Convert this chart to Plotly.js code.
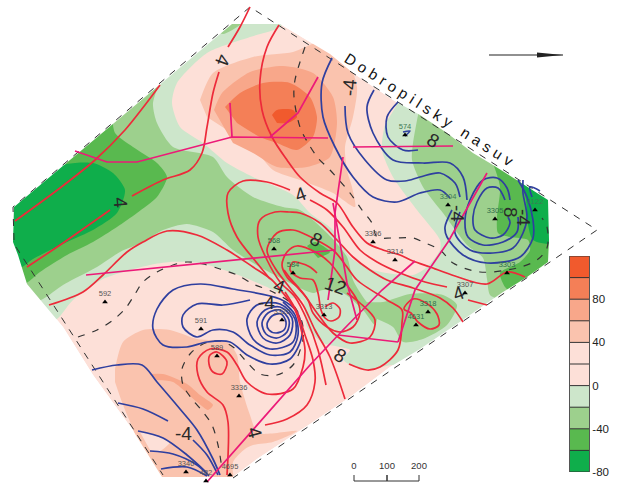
<!DOCTYPE html>
<html><head><meta charset="utf-8">
<script src="https://cdn.plot.ly/plotly-3.0.1.min.js"></script>
<style>html,body{margin:0;padding:0;background:#fff}#c{width:620px;height:484px}</style>
</head><body><div id="c"></div>
<script>
// Colour classes of the legend (lower edge of each class)
const classEdges=[-80,-60,-40,-20,0,20,40,60,80,100,120];
const classColors=['#0fae4b','#59b94f','#9dd08d','#cde6cb','#fde0d8','#fde0d8','#fac3ae','#f8a78a','#f47f57','#f15a2d'];
const legendTicks=[80,40,0,-40,-80];

// Map regions: [x,y] on the map, one list per value class
const areaAll=[[14,207],[232,24],[280,24],[330,54],[353,73],[393,100],[420,115],[447,133],[473,153],[493,165],[517,180],[548,200],[549,240],[548,262],[527,277],[503,292],[467,317],[420,349],[390,367],[350,397],[310,424],[257,459],[233,477],[162,477],[132,429],[93,375],[63,327],[27,284],[18,255],[13,242]];
const lightGreen=[[225,10],[290,10],[280,27],[250,37],[207,53],[177,83],[172,103],[180,127],[203,143],[227,163],[253,177],[293,195],[310,213],[333,230],[350,257],[373,270],[413,275],[427,267],[440,250],[440,240],[417,210],[393,177],[382,150],[385,125],[397,103],[392,88],[560,195],[560,268],[503,302],[420,360],[403,372],[393,365],[370,370],[350,365],[343,359],[350,350],[340,347],[323,343],[307,327],[303,300],[290,298],[267,287],[233,273],[200,263],[170,262],[150,265],[103,279],[73,300],[57,319],[40,325],[0,265],[0,190]];
const midGreenW=[[165,70],[153,103],[157,123],[173,147],[213,157],[227,177],[253,197],[283,207],[300,210],[327,233],[347,257],[353,280],[363,297],[377,317],[375,325],[363,310],[343,293],[323,290],[313,293],[290,283],[260,267],[233,250],[213,232],[187,224],[163,230],[143,242],[120,252],[97,267],[63,285],[43,299],[25,305],[0,265],[0,190]];
const midGreenTop=[[225,15],[245,15],[241,24],[223,34],[215,30]];
const midGreenE=[[420,105],[413,143],[412,160],[423,187],[443,213],[467,245],[483,258],[487,279],[490,295],[500,299],[515,295],[560,270],[560,190],[430,100]];
const midGreenS=[[365,302],[383,302],[410,294],[443,295],[457,305],[447,325],[423,339],[403,342],[393,327],[377,319]];
const darkGreenW=[[112,115],[115,133],[133,147],[157,163],[167,177],[157,197],[137,213],[117,227],[93,242],[67,255],[40,272],[28,282],[15,288],[0,265],[0,190]];
const darkGreenE=[[490,155],[500,187],[497,217],[498,233],[510,237],[528,240],[530,250],[520,262],[500,273],[505,287],[512,292],[560,270],[560,190],[520,170]];
const darkGreenC=[[307,246],[315,242],[330,252],[318,258]];
const deepGreenW=[[0,215],[40,175],[67,164],[93,163],[113,173],[125,190],[117,213],[93,230],[67,242],[33,259],[20,268],[0,265]];
const deepGreenE=[[518,172],[526,200],[527,218],[533,240],[560,243],[560,190]];
const peachN=[[200,100],[213,73],[253,57],[293,52],[320,42],[345,55],[357,87],[353,117],[345,147],[347,170],[352,187],[355,207],[333,193],[300,180],[273,170],[253,147],[227,130],[207,117]];
const salmonN=[[214,110],[222,93],[250,72],[283,66],[313,73],[333,97],[337,123],[330,157],[307,167],[277,167],[253,153],[233,143]];
const orangeN=[[225,107],[240,93],[263,83],[290,83],[310,97],[317,117],[313,137],[297,150],[277,143],[260,137],[237,123]];
const deepOrangeN=[[272,115],[277,110],[293,110],[297,117],[288,123],[277,123]];
const peachS=[[115,369],[123,342],[143,330],[170,330],[197,339],[227,342],[237,355],[240,382],[250,415],[258,433],[297,431],[273,442],[253,445],[245,449],[233,462],[232,490],[155,490],[133,429],[123,405],[115,382]];
const paleS=[[140,432],[160,437],[170,442],[160,451],[150,450]];
const salmonS=[[150,374],[163,374],[187,384],[200,395],[213,405],[208,410],[197,402],[173,382],[157,380]];

// Positive isolines
const red1=[[15,221],[60,188],[95,160],[125,130],[145,105],[160,85]];
const red2=[[27,267],[63,243],[110,210]];
const red3=[[132,196],[163,180],[190,170],[202,153],[207,127],[213,93],[219,72]];
const red4=[[228,47],[240,27],[250,7]];
const red5=[[279,25],[267,47],[260,80],[262,110],[272,137],[287,160],[300,177],[320,193],[337,203],[353,227],[367,243],[383,250],[400,255],[413,261],[430,267],[455,276],[487,284],[507,272],[525,277]];
const red6=[[290,190],[267,182],[243,181],[228,193],[228,213],[237,237],[257,263],[270,279]];
const red7=[[285,292],[297,312],[305,335],[313,360],[315,382],[307,405],[287,419],[265,425]];
const red8=[[310,200],[327,210],[343,227],[360,250],[377,262],[400,273],[425,282],[447,287]];
const red9=[[468,300],[487,305]];
const red10=[[326,385],[318,350],[307,320],[295,297],[280,282],[267,260],[258,237],[260,220],[275,212],[290,212],[300,213],[320,223],[337,240],[353,257],[370,270],[387,280],[413,288],[440,298],[453,308],[463,322]];
const red11=[[345,399],[330,357],[315,330],[303,305],[290,288],[275,268],[267,250],[277,233],[293,230],[300,232],[333,250],[347,267],[357,280],[387,300],[402,310],[402,323],[398,350],[380,367],[367,370],[349,364]];
const red12=[[287,252],[297,246],[317,253],[330,263],[343,280],[357,300],[360,313],[353,327],[340,332],[327,327],[313,313],[308,300],[297,287],[287,277],[282,265],[287,252]];
const red13=[[347,293],[360,303],[375,320],[370,337],[350,343],[333,333],[317,313],[303,293],[290,278],[284,270]];
const red14=[[317,273],[310,267],[300,263],[293,262],[290,270],[300,278],[313,280],[318,293],[321,310],[325,318],[331,321],[339,317],[340,309],[333,303],[325,307]];
const red15=[[49,305],[83,292],[103,275],[127,252],[143,242],[167,231],[197,235],[227,250],[253,267],[272,280],[283,293],[295,310],[302,333],[305,350],[303,367],[293,389],[267,394],[247,382],[237,365],[227,352],[210,349],[198,359],[198,375],[207,392],[223,405],[228,422],[227,475]];
const red16=[[217,352],[227,362],[222,374],[213,372],[209,364],[210,355],[217,352]];
const red17=[[413,299],[426,303],[437,314],[439,325],[430,329],[418,322],[411,313],[404,309],[413,299]];

// Negative isolines
const blue1=[[92,370],[117,365],[142,365],[157,382],[180,409],[197,430],[213,459],[220,475]];
const blue2=[[118,403],[143,409],[168,421]];
const blue3=[[193,440],[207,455],[218,475]];
const blue4=[[138,431],[163,438],[187,455],[207,473]];
const blue5=[[150,451],[173,454],[197,465],[209,476]];
const blue6=[[161,469],[187,467],[207,476]];
const blue7=[[280,299],[233,289],[200,284],[173,290],[157,309],[153,329],[163,345],[187,347],[207,342],[230,342],[247,355],[270,364],[290,359],[302,335],[297,312],[280,299]];
const blue8=[[250,300],[223,305],[197,304],[183,315],[183,327],[197,337],[213,330],[233,332],[250,345],[270,355],[290,352],[298,335],[295,315],[283,302]];
const blue9=[[247,319],[257,305],[280,304],[295,319],[293,342],[270,349],[253,339],[247,319]];
const blue10=[[257,322],[265,310],[280,307],[292,318],[290,335],[277,343],[263,338],[257,322]];
const blue11=[[262,323],[268,313],[280,310],[289,320],[287,332],[277,338],[266,334],[262,323]];
const blue12=[[267,324],[272,316],[281,314],[286,322],[284,330],[276,333],[269,330],[267,324]];
const blue13=[[332,58],[322,83],[323,117],[335,147],[353,177],[373,197],[397,202],[420,193],[440,190],[450,198]];
const blue14=[[345,106],[348,133],[365,160],[387,180],[405,181],[420,177],[440,173],[455,183],[460,197]];
const blue15=[[374,90],[367,107],[373,133],[393,160],[423,163],[450,163],[463,177],[467,200]];
const blue16=[[398,102],[387,117],[388,137],[403,150],[418,150]];
const blue17=[[403,132],[410,131],[405,136]];
const blue18=[[452,210],[445,227],[447,237],[463,255],[487,263],[520,257],[533,238],[533,220],[527,197],[518,180]];
const blue19=[[460,212],[455,233],[470,250],[493,253],[513,248],[523,233],[527,217],[523,193],[523,180]];
const blue20=[[510,200],[507,188],[497,178],[483,180],[470,200],[465,220],[468,237],[483,245],[503,242],[517,232],[518,217]];
const blue21=[[505,200],[498,188],[487,188],[477,202],[473,217],[475,230],[490,238],[503,235],[510,223],[508,217]];
const blue22=[[532,197],[530,187],[540,191]];

// Faults
const fault1=[[75,151],[107,162],[137,162],[203,145],[232,137],[328,138]];
const fault2=[[230,103],[232,137]];
const fault3=[[270,137],[298,113],[318,77]];
const fault4=[[353,147],[453,146]];
const fault5=[[343,157],[335,213],[335,250],[328,300]];
const fault6=[[333,203],[347,283],[357,320]];
const fault7=[[86,275],[335,250]];
const fault8=[[207,482],[310,365],[343,330],[382,290],[415,261]];
const fault9=[[338,335],[398,342]];
const fault10=[[398,342],[415,290],[448,242],[487,173]];

// Dashed lines
const outline1=[[14,240],[13,207],[250,7],[597,230],[233,478]];
const outline2=[[16,247],[163,475]];
const zeroLineS=[[78,337],[97,330],[113,320],[125,309],[135,294],[143,282],[157,272],[173,265],[187,262],[203,264],[220,269],[237,275],[253,284],[273,292],[293,305],[302,322],[303,339],[293,365],[277,375],[260,374],[245,360],[233,347],[220,341],[203,344],[190,354],[182,369],[183,385],[192,399],[203,412],[212,425],[218,445],[222,469]];
const zeroLineN=[[305,47],[295,80],[294,97],[300,127],[308,143],[318,158],[330,170],[350,193],[362,210],[372,223],[377,237],[392,238],[413,238],[423,242],[440,250],[453,263],[480,272],[517,268],[537,260],[547,248],[547,227],[542,218]];

// Wells
const wellNames=['574','3304','4122','3305','3306','3314','568','584','3313','3320','592','591','589','3336','3340','482','4695','3303','3307','3318','4631'];
const wellX=[405,448,535,495,373,395,274,293,324,282,105,201,217,239,186,206,230,507,465,428,416];
const wellY=[135,205,210,219,242,260,249,273,315,320,302,329,356,396,472,481,475,273,293,312,325];
const wellTint=['#3d7a55','#3d7a55','#3d7a55','#2f6f4a','#555','#555','#2f6f4a','#2f6f4a','#555','#555','#555','#555','#555','#555','#555','#555','#555','#2f6f4a','#555','#2f6f4a','#2f6f4a'];

// Isoline labels
const isoText=['4','4','4','-4','8','-4','8','-4','8','4','12','-4','8','4','-4','4'];
const isoX=[223,121,300,349,433,458,511,524,316,279,335,266,340,458,183,255];
const isoY=[60,202,194,88,140,213,212,217,239,286,285,302,355,293,433,432];
const isoAngle=[110,85,-20,-85,30,90,90,90,30,20,20,0,30,-20,0,75];

// Scale bar
const scaleMetres=[0,100,200];
const scaleX=[354,387,419];

const pick=p=>({x:p.map(a=>a[0]),y:p.map(a=>a[1])});
const colorOf=v=>classColors[classEdges.findIndex((e,i)=>v>=e&&v<classEdges[i+1])];
const traces=[];
function area(p,v,shape){const d=pick(p);traces.push({x:d.x,y:d.y,mode:'lines',fill:'toself',fillcolor:colorOf(v),line:{width:0,shape:shape||'spline',smoothing:0.7,color:colorOf(v)},hoverinfo:'skip'});}
function curve(p,color,w,dash,linear){const d=pick(p);traces.push({x:d.x,y:d.y,mode:'lines',line:{color:color,width:w,dash:dash||'solid',shape:linear?'linear':'spline',smoothing:0.9},hoverinfo:'skip'});}

area(areaAll,10,'linear');
area(lightGreen,-10);
[midGreenW,midGreenTop,midGreenE,midGreenS].forEach(p=>area(p,-30));
[darkGreenW,darkGreenE,darkGreenC].forEach(p=>area(p,-50));
[deepGreenW,deepGreenE].forEach(p=>area(p,-70));
area(peachN,50);area(salmonN,70);area(orangeN,90);area(deepOrangeN,110);
area(peachS,50);area(paleS,10);area(salmonS,70);

// White surround: everything outside the mapped area
const frame=[[0,0],[0,484],[620,484],[620,0],[0,0]];
const maskPts=frame.concat(areaAll,[areaAll[0]],[[0,0]]);
traces.push({x:maskPts.map(a=>a[0]),y:maskPts.map(a=>a[1]),mode:'lines',fill:'toself',fillcolor:'#fff',line:{width:0,color:'#fff'},hoverinfo:'skip'});

[outline1,outline2].forEach(p=>curve(p,'#333',1,'7px,7px',true));
[zeroLineS,zeroLineN].forEach(p=>curve(p,'#333',1.2,'7px,8px'));
[blue1,blue2,blue3,blue4,blue5,blue6,blue7,blue8,blue9,blue10,blue11,blue12,blue13,blue14,blue15,blue16,blue17,blue18,blue19,blue20,blue21,blue22].forEach(p=>curve(p,'#2f3f9f',1.7));
[red1,red2,red3,red4,red5,red6,red7,red8,red9,red10,red11,red12,red13,red14,red15,red16,red17].forEach(p=>curve(p,'#ed2a3a',1.7));
[fault1,fault2,fault3,fault4,fault5,fault6,fault7,fault8,fault9,fault10].forEach(p=>curve(p,'#ec1a78',1.7,'solid',true));

traces.push({x:wellX,y:wellY,mode:'markers+text',text:wellNames,textposition:'top center',
  textfont:{size:7.5,family:'Liberation Sans',color:wellTint},cliponaxis:false,
  marker:{symbol:'triangle-up',size:5,color:'#000'},hoverinfo:'skip'});

// North arrow
curve([[489,55],[563,55]],'#222',1.2,'solid',true);
traces.push({x:[537,563,537],y:[52.6,55,57.4],mode:'lines',fill:'toself',fillcolor:'#222',line:{width:0,color:'#222'},hoverinfo:'skip'});
// Scale bar
curve([[scaleX[0],475],[scaleX[0],481],[scaleX[1],481],[scaleX[1],475],[scaleX[1],481],[scaleX[2],481],[scaleX[2],475]],'#333',1,'solid',true);
traces.push({x:scaleX,y:scaleX.map(()=>467),mode:'text',text:scaleMetres.map(String),textfont:{size:9.5,family:'Liberation Sans',color:'#333'},hoverinfo:'skip'});

// Legend bar on its own axis
const legendY=classEdges;
traces.push({type:'heatmap',xaxis:'x2',yaxis:'y2',x:[0,1],y:legendY,
  z:classEdges.slice(0,-1).map(e=>[e+10]),zmin:-80,zmax:120,showscale:false,hoverinfo:'skip',
  colorscale:classColors.flatMap((c,i)=>[[i/10,c],[(i+1)/10,c]])});
traces.push({xaxis:'x2',yaxis:'y2',x:classEdges.flatMap(e=>[0,1,null]),y:classEdges.flatMap(e=>[e,e,null]),mode:'lines',line:{color:'#333',width:1},hoverinfo:'skip'});

const annotations=isoText.map((t,i)=>({x:isoX[i],y:isoY[i],text:t,textangle:isoAngle[i],showarrow:false,font:{size:19,family:'Liberation Sans',color:'#2a2a2a'}}));
annotations.push({x:431,y:110,text:'Dobropilsky nasuv',textangle:32.5,showarrow:false,font:{size:15,family:'Liberation Sans',color:'#111'}});

const layout={width:620,height:484,margin:{l:0,r:0,t:0,b:0},paper_bgcolor:'#fff',plot_bgcolor:'rgba(0,0,0,0)',showlegend:false,dragmode:false,
  xaxis:{range:[0,620],visible:false,domain:[0,1],fixedrange:true},
  yaxis:{range:[484,0],visible:false,domain:[0,1],fixedrange:true},
  xaxis2:{domain:[570/620,589/620],range:[0,1],anchor:'y2',visible:false,fixedrange:true},
  yaxis2:{domain:[1-472/484,1-256/484],range:[-80,120],anchor:'x2',side:'right',tickvals:legendTicks,ticktext:legendTicks.map(String),
    ticks:'',showgrid:false,zeroline:false,showline:true,mirror:true,linecolor:'#555',linewidth:1,fixedrange:true,
    tickfont:{size:11.5,family:'Liberation Sans',color:'#222'}},
  annotations:annotations};

Plotly.newPlot('c',traces,layout,{displayModeBar:false,staticPlot:true}).then(()=>{
  document.querySelectorAll('.annotation-text').forEach(t=>{if(t.textContent.startsWith('Dobropilsky'))t.style.letterSpacing='4.6px';});
});
</script></body></html>
